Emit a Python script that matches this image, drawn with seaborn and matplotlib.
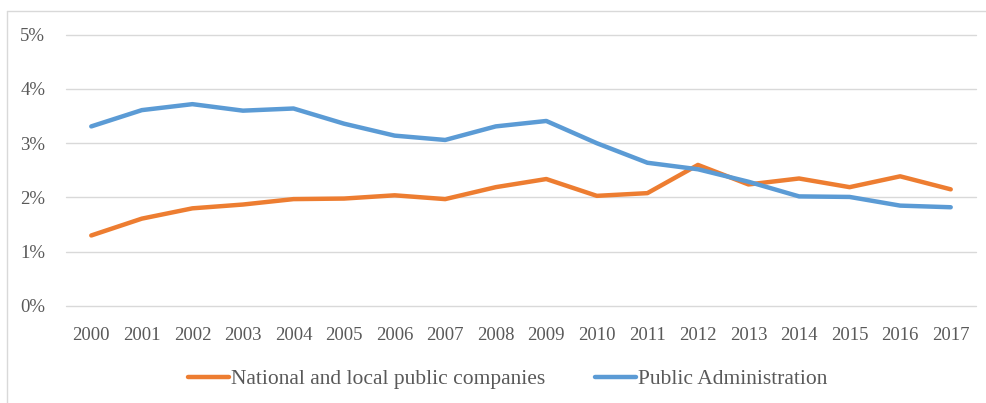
import numpy as np
import pandas as pd
import matplotlib
matplotlib.use('Agg')
import matplotlib.pyplot as plt
import seaborn as sns
from matplotlib.ticker import PercentFormatter

years = [str(y) for y in range(2000, 2018)]
companies = [1.30, 1.61, 1.80, 1.87, 1.97, 1.98, 2.04, 1.97, 2.19, 2.34,
             2.03, 2.08, 2.60, 2.24, 2.35, 2.19, 2.39, 2.15]
public_admin = [3.31, 3.61, 3.72, 3.60, 3.64, 3.36, 3.14, 3.06, 3.31, 3.41,
                3.00, 2.64, 2.52, 2.29, 2.02, 2.01, 1.85, 1.82]
series_names = ['National and local public companies', 'Public Administration']

data = pd.DataFrame({
    'Year': years * 2,
    'Share': np.array(companies + public_admin) / 100,
    'Series': [series_names[0]] * len(years) + [series_names[1]] * len(years),
})

sns.set_style('white')
plt.rcParams['font.family'] = ['Liberation Serif', 'DejaVu Serif']
text_color = '#595959'

fig = plt.figure(figsize=(9.87, 4.03), dpi=100)
ax = fig.add_axes([66 / 987, 97 / 403, 910 / 987, 271.3 / 403])

sns.lineplot(data=data, x='Year', y='Share', hue='Series', hue_order=series_names,
             palette=['#ED7D31', '#5B9BD5'], linewidth=3.2, ax=ax, sort=False)

ax.set_xlim(-0.5, len(years) - 0.5)
ax.set_ylim(0, 0.05)
ax.set_yticks(np.arange(0, 0.051, 0.01))
ax.yaxis.set_major_formatter(PercentFormatter(1.0, decimals=0))
ax.grid(axis='y', color='#D9D9D9', linewidth=1)
ax.grid(axis='x', visible=False)
ax.set_axisbelow(True)
for g in ax.yaxis.get_gridlines():
    g.set_clip_on(False)
for s in ax.spines.values():
    s.set_visible(False)
ax.tick_params(axis='both', length=0, labelsize=13.5, labelcolor=text_color)
ax.tick_params(axis='y', pad=15)
ax.tick_params(axis='x', pad=15)
ax.set_xlabel('')
ax.set_ylabel('')

ax.legend_.remove()
handles, labels = ax.get_legend_handles_labels()
leg = fig.legend(handles, labels, loc='center', bbox_to_anchor=(508 / 987, 24 / 403),
                 ncol=2, frameon=False, fontsize=15.5, handlelength=1.9,
                 handletextpad=0.1, columnspacing=2.3, labelcolor=text_color)
for h in leg.get_lines():
    h.set_linewidth(3.2)

# outer chart border (left and top edges visible)
fig.add_artist(plt.Line2D([7 / 987, 7 / 987], [0, 392 / 403], color='#D9D9D9', lw=1))
fig.add_artist(plt.Line2D([7 / 987, 1], [392 / 403, 392 / 403], color='#D9D9D9', lw=1))

fig.savefig('out.png', dpi=100)
